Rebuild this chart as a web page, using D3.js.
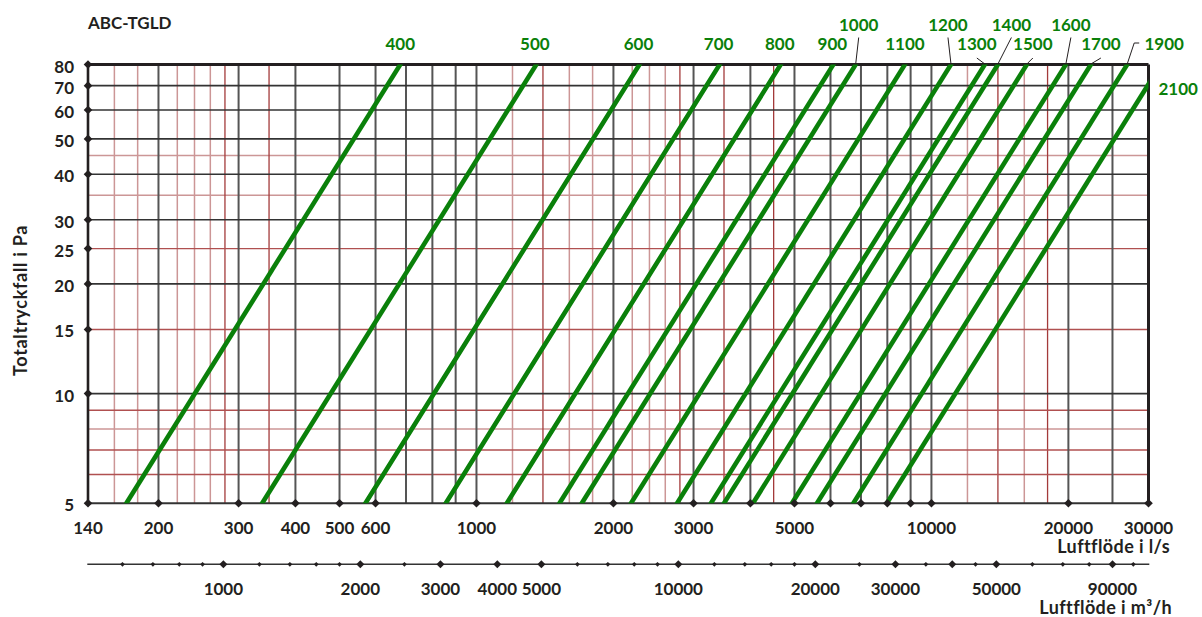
<!DOCTYPE html>
<html><head><meta charset="utf-8">
<script src="https://cdn.jsdelivr.net/npm/d3@7"></script>
<style>
body{margin:0;background:#fff}
svg{display:block}
text{font-family:Lato,"Open Sans",sans-serif;font-weight:700;fill:#231f20}
</style>
</head><body><svg id="c" width="1202" height="617"></svg>
<script>
// ---------- data ----------
const title = "ABC-TGLD";
const yTitle = "Totaltryckfall i Pa";
const xTitle = "Luftflöde i l/s";
const xmTitle = "Luftflöde i m³/h";
const sizes      = [400, 500, 600, 700, 800, 900, 1000, 1100, 1200, 1300, 1400, 1500, 1600, 1700, 1900, 2100];
const flowAt5Pa  = [170, 338, 570, 856, 1166, 1522, 1704, 2186, 2760, 3276, 3500, 4052, 4937, 5603, 6734, 7981];
const flowAt80Pa = [680, 1354, 2282, 3424, 4664, 6088, 6816, 8744, 11040, 13104, 14000, 16208, 19748, 22412, 26936, 31924];
const yTicks = [5, 10, 15, 20, 25, 30, 40, 50, 60, 70, 80];
const xTickMarks = [200, 300, 400, 500, 600, 1000, 2000, 3000, 4000, 5000, 6000, 7000, 8000, 9000, 10000, 20000, 30000];
const xTickLabels = [140, 200, 300, 400, 500, 600, 1000, 2000, 3000, 5000, 10000, 20000, 30000];
const mBigTicks = [1000, 2000, 3000, 4000, 5000, 10000, 20000, 30000, 40000, 50000, 90000];
const mSmallTicks = [600, 700, 800, 900, 1200, 1400, 1600, 1800, 2500, 6000, 7000, 8000, 9000, 12000, 14000, 16000, 18000, 25000, 35000, 45000, 60000, 70000, 80000, 100000];
const mTickLabels = [1000, 2000, 3000, 4000, 5000, 10000, 20000, 30000, 50000, 90000];
const gridXMajor = [200, 300, 400, 500, 600, 700, 800, 900, 1000, 2000, 3000, 4000, 5000, 6000, 7000, 8000, 9000, 10000, 20000, 25000];
const gridXRedDark = [280, 350, 1400, 2800, 3500, 4500, 14000, 18000];
const gridXRedLight = [160, 180, 220, 240, 260, 1200, 1600, 1800, 2200, 2400, 2600, 12000, 16000];
const gridYMajor = [10, 20, 30, 40, 50, 60, 70];
const gridYRedDark = [6, 7, 9, 15, 25];
const gridYRedLight = [8, 35, 45];
const M3H_PER_LS = 3.6;

// ---------- layout (label placement) ----------
const labelDx   = [0, -1.5, -1, -1, -1, -1, 3, 0, -3, -8, 13.5, 6, 5, 10, 37, 0];
const labelRow  = [1, 1, 1, 1, 1, 1, 0, 1, 0, 1, 0, 1, 0, 1, 1, 2];
const leaderTyp = [0, 0, 0, 0, 0, 0, 1, 0, 1, 1, 1, 1, 1, 1, 2, 0];
const rowBase = [31, 50];

const svg = d3.select("#c");
const L = 88, R = 1148.5, T = 64.5, B = 503.3;
const x = d3.scaleLog().domain([140, 30000]).range([L, R]);
const y = d3.scaleLog().domain([5, 80]).range([B, T]);
const xm = d3.scaleLog().domain([140 * M3H_PER_LS, 30000 * M3H_PER_LS]).range([L, R]);
const ink = "#231f20";
const green = "#0a800a";
const diamond = r => `M0,${-r}L${r},0L0,${r}L${-r},0Z`;

svg.append("defs").append("clipPath").attr("id", "pc")
  .append("rect").attr("x", L).attr("y", T).attr("width", R - L).attr("height", B - T);

const g = svg.append("g");
function vlines(vals, color, w) {
  g.selectAll(null).data(vals).enter().append("line")
    .attr("x1", d => x(d)).attr("x2", d => x(d)).attr("y1", T).attr("y2", B)
    .attr("stroke", color).attr("stroke-width", w);
}
function hlines(vals, color, w) {
  g.selectAll(null).data(vals).enter().append("line")
    .attr("y1", d => y(d)).attr("y2", d => y(d)).attr("x1", L).attr("x2", R)
    .attr("stroke", color).attr("stroke-width", w);
}
vlines(gridXRedLight, "#cc9696", 1.5);
hlines(gridYRedLight, "#cc9696", 1.5);
vlines(gridXRedDark, "#a33a3a", 1.3);
hlines(gridYRedDark, "#b05050", 1.4);
vlines(gridXMajor, "#555555", 2);
hlines(gridYMajor, "#333333", 1.6);

// borders
g.append("line").attr("x1", L).attr("x2", R).attr("y1", B).attr("y2", B).attr("stroke", "#333").attr("stroke-width", 2);
g.append("line").attr("x1", L).attr("x2", R).attr("y1", T).attr("y2", T).attr("stroke", ink).attr("stroke-width", 3);
g.append("line").attr("x1", R).attr("x2", R).attr("y1", T).attr("y2", B).attr("stroke", ink).attr("stroke-width", 3);
g.append("line").attr("x1", L).attr("x2", L).attr("y1", T).attr("y2", B).attr("stroke", ink).attr("stroke-width", 2.6);

// pressure-drop lines
const lineGen = d3.line().x(d => x(d[0])).y(d => y(d[1]));
svg.append("g").attr("clip-path", "url(#pc)")
  .selectAll("path").data(sizes).enter().append("path")
  .attr("d", (d, i) => lineGen([[flowAt5Pa[i], 5], [flowAt80Pa[i], 80]]))
  .attr("fill", "none").attr("stroke", green).attr("stroke-width", 4.6).attr("stroke-linecap", "square");

// line labels
const lab = svg.append("g");
sizes.forEach((s, i) => {
  const xt = x(flowAt80Pa[i]);
  if (labelRow[i] === 2) {
    const pEdge = 5 * Math.pow(30000 / flowAt5Pa[i], 2);
    lab.append("text").attr("x", R + 10).attr("y", y(pEdge) + 10.5)
      .attr("font-size", 17).style("fill", green).text(s);
    return;
  }
  const lx = xt + labelDx[i], by = rowBase[labelRow[i]];
  lab.append("text").attr("x", lx).attr("y", by).attr("text-anchor", "middle")
    .attr("font-size", 17).style("fill", green).text(s);
  if (leaderTyp[i] === 1) {
    lab.append("path").attr("d", `M${lx},${by + (labelRow[i] === 0 ? 6.5 : 8)}L${xt},${T - 0.5}`)
      .attr("stroke", ink).attr("stroke-width", 1).attr("fill", "none");
  } else if (leaderTyp[i] === 2) {
    lab.append("path").attr("d", `M${lx - 25},${by - 7}h-5L${xt},${T - 0.5}`)
      .attr("stroke", ink).attr("stroke-width", 1).attr("fill", "none");
  }
});

// y axis ticks and labels
const ya = svg.append("g");
ya.selectAll("path").data(yTicks).enter().append("path")
  .attr("transform", d => `translate(${L},${y(d)})`).attr("d", diamond(4.3)).attr("fill", ink);
ya.selectAll("text").data(yTicks).enter().append("text")
  .attr("x", 74).attr("y", d => y(d) + 8).attr("text-anchor", "end").attr("font-size", 17).text(d => d);
svg.append("text").attr("transform", "translate(27,300.5) rotate(-90)").attr("text-anchor", "middle")
  .attr("font-size", 18).attr("letter-spacing", 0.7).text(yTitle);

// x axis (l/s)
const xa = svg.append("g");
xa.selectAll("path").data(xTickMarks).enter().append("path")
  .attr("transform", d => `translate(${x(d)},${B})`).attr("d", diamond(4.3)).attr("fill", ink);
xa.selectAll("text").data(xTickLabels).enter().append("text")
  .attr("x", d => x(d)).attr("y", 534.3).attr("text-anchor", "middle").attr("font-size", 17).text(d => d);
svg.append("text").attr("x", 1170).attr("y", 553).attr("text-anchor", "end").attr("font-size", 18).attr("letter-spacing", 0.4).text(xTitle);

// second axis (m3/h)
const ma = svg.append("g");
const My = 564.3;
ma.append("line").attr("x1", L - 0.7).attr("x2", R + 0.8).attr("y1", My).attr("y2", My).attr("stroke", "#333").attr("stroke-width", 1.6);
ma.selectAll(".s").data(mSmallTicks).enter().append("path")
  .attr("transform", d => `translate(${xm(d)},${My})`).attr("d", diamond(2.4)).attr("fill", ink);
ma.selectAll(".b").data(mBigTicks).enter().append("path")
  .attr("transform", d => `translate(${xm(d)},${My})`).attr("d", diamond(4)).attr("fill", ink);
ma.selectAll("text").data(mTickLabels).enter().append("text")
  .attr("x", d => xm(d)).attr("y", 594.5).attr("text-anchor", "middle").attr("font-size", 17).text(d => d);
svg.append("text").attr("x", 1172).attr("y", 613.5).attr("text-anchor", "end").attr("font-size", 18).attr("letter-spacing", 0.4).text(xmTitle);

// title
svg.append("text").attr("x", 88).attr("y", 29.3).attr("font-size", 17).text(title);
</script>
</body></html>
